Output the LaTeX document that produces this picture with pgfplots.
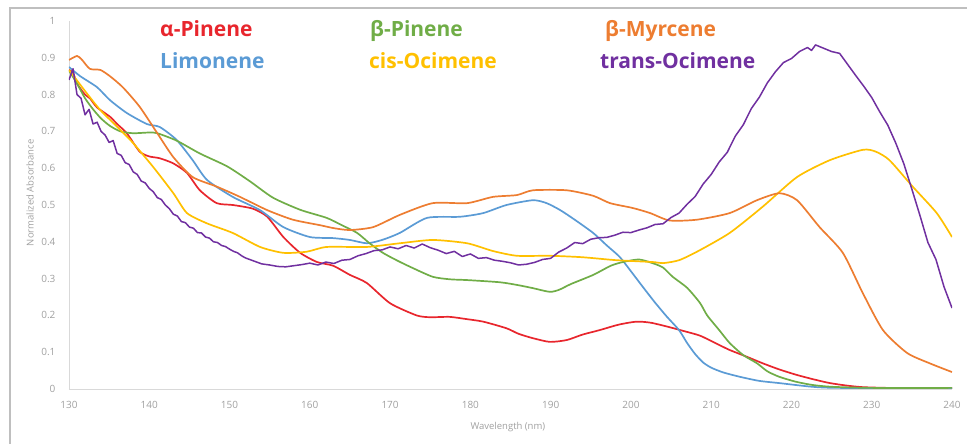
\documentclass[border=0pt]{standalone}
\usepackage{fontspec}
\setmainfont{Open Sans}
\usepackage{pgfplots}
\pgfplotsset{compat=1.18}

\definecolor{cRed}{HTML}{E8262D}
\definecolor{cBlue}{HTML}{5B9BD5}
\definecolor{cGreen}{HTML}{70AD47}
\definecolor{cOrange}{HTML}{ED7D31}
\definecolor{cYellow}{HTML}{FFC000}
\definecolor{cPurple}{HTML}{7030A0}
\definecolor{tickgray}{HTML}{A0A0A0}
\definecolor{axisgray}{HTML}{D9D9D9}
\definecolor{framegray}{HTML}{BFBFBF}

\newcommand{\legfont}{\fontsize{21}{25}\selectfont\bfseries}

\begin{document}
\begin{tikzpicture}[x=1pt,y=1pt]
\useasboundingbox (0,0) rectangle (967,444);
\draw[draw=framegray, line width=1.2pt] (10,0) -- (10,436) -- (967,436);

\begin{axis}[
    at={(69pt,55pt)}, anchor=south west,
    scale only axis, width=883pt, height=368pt,
    xmin=130, xmax=240, ymin=0, ymax=1,
    xtick={130,140,150,160,170,180,190,200,210,220,230,240},
    ytick={0,0.1,0.2,0.3,0.4,0.5,0.6,0.7,0.8,0.9,1},
    axis x line*=bottom, axis y line*=left,
    axis line style={draw=axisgray, line width=0.8pt},
    major tick length=0pt,
    /pgf/number format/assume math mode=true,
    ticklabel style={font=\fontsize{10}{12}\selectfont, text=tickgray},
    xticklabel style={yshift=-9pt},
    yticklabel style={xshift=-10pt},
    xlabel={Wavelength (nm)},
    ylabel={Normalized Absorbance},
    label style={font=\fontsize{9.5}{11}\selectfont, text=tickgray},
    xlabel style={at={(axis description cs:0.497,-0.103)}, anchor=center},
    ylabel style={at={(axis description cs:-0.0442,0.533)}, anchor=center},
    every axis plot/.append style={line width=1.7pt, line join=round},
]
% alpha-Pinene
\addplot[cRed, smooth, tension=0.4] coordinates {
(130,0.867) (130.5,0.86) (131,0.83) (132,0.80) (132.6,0.79) (133.5,0.765)
(135.1,0.74) (136,0.72) (137.2,0.695) (138.8,0.645) (140,0.632) (141.3,0.627)
(143,0.613) (144.7,0.587) (146.3,0.54) (148.4,0.505) (150.4,0.50) (152.9,0.49)
(154.7,0.468) (156.7,0.413) (158.8,0.37) (160.9,0.345) (162.9,0.335) (165,0.31)
(167.1,0.288) (170,0.233) (173.3,0.20) (175,0.195) (177.4,0.196) (179.5,0.19)
(181.6,0.183) (184.5,0.165) (186,0.15) (187.8,0.138) (189.9,0.128) (192,0.133)
(194,0.148) (196.1,0.16) (198.5,0.175) (200.7,0.183) (202.5,0.18) (204.8,0.168)
(206.5,0.158) (208.6,0.145) (210.5,0.125) (212.3,0.106) (214.4,0.088) (216.4,0.07)
(218.5,0.053) (220.7,0.038) (222.8,0.026) (224.8,0.016) (227,0.009) (228.9,0.005)
(232,0.003) (236,0.002) (240,0.002)
};
% Limonene
\addplot[cBlue, smooth, tension=0.4] coordinates {
(130,0.875) (131.4,0.85) (133.5,0.82) (135.1,0.785) (137.2,0.75) (139.7,0.72)
(141.3,0.712) (143.4,0.677) (145.4,0.622) (147.2,0.568) (150.4,0.522) (153.8,0.486)
(156.7,0.44) (160,0.413) (162.9,0.41) (165,0.405) (167.1,0.396) (169,0.405)
(171.2,0.424) (174.6,0.465) (178.7,0.468) (181.6,0.478) (184.5,0.5) (187.8,0.513)
(189.5,0.505) (191.2,0.486) (193,0.46) (195.3,0.424) (197,0.39) (198.6,0.359)
(200,0.32) (201.5,0.277) (203,0.235) (204.5,0.196) (206,0.16) (207,0.125)
(208,0.095) (209,0.072) (210,0.058) (211.5,0.045) (213.6,0.033) (216,0.022)
(218.5,0.016) (222.6,0.006) (226,0.003) (240,0.002)
};
% beta-Pinene
\addplot[cGreen, smooth, tension=0.4] coordinates {
(130,0.865) (131,0.83) (132,0.79) (133,0.76) (134,0.735) (135.1,0.715)
(136.4,0.70) (138,0.695) (140,0.697) (141,0.695) (143.4,0.675) (146.3,0.64)
(149.7,0.605) (152.5,0.565) (155.4,0.52) (158.8,0.487) (162.1,0.465) (164,0.445)
(165.9,0.424) (167.5,0.395) (169.1,0.37) (170.8,0.35) (172.5,0.332) (175.3,0.305)
(177.5,0.298) (179.6,0.296) (183.7,0.29) (186,0.282) (187.8,0.274) (189.9,0.264)
(191.1,0.27) (192.5,0.285) (195.3,0.31) (197.5,0.335) (199,0.345) (201,0.352)
(202.7,0.342) (204,0.33) (205.2,0.305) (207,0.275) (208.6,0.234) (209.5,0.2)
(211,0.16) (212.3,0.125) (214,0.092) (215.7,0.07) (217,0.048) (218.5,0.033)
(220.5,0.02) (222.6,0.011) (225,0.006) (230,0.003) (240,0.003)
};
% cis-Ocimene
\addplot[cYellow, smooth, tension=0.4] coordinates {
(130,0.867) (132.2,0.804) (133.9,0.758) (136.4,0.704) (138,0.668) (140.5,0.603)
(143,0.532) (144.7,0.478) (147.2,0.45) (150.4,0.424) (153.8,0.386) (156.7,0.37)
(159.6,0.373) (162.1,0.386) (167.1,0.386) (171.2,0.396) (175.3,0.405) (179.6,0.396)
(182.8,0.375) (185.8,0.362) (189.9,0.362) (194,0.358) (198.2,0.35) (202.7,0.345)
(204,0.342) (206,0.35) (208.4,0.375) (212.3,0.424) (216.4,0.495) (220.7,0.576)
(224.8,0.622) (228.9,0.65) (230.5,0.645) (232.2,0.622) (235.1,0.55) (238.1,0.478)
(240,0.413)
};
% beta-Myrcene
\addplot[cOrange, smooth, tension=0.4] coordinates {
(130,0.894) (131,0.905) (131.6,0.895) (132.6,0.87) (133.9,0.867) (135.1,0.85)
(136.7,0.82) (138.8,0.767) (141,0.695) (143,0.63) (145.4,0.576) (148.4,0.55)
(151.3,0.522) (154.7,0.486) (157.9,0.46) (161.3,0.445) (163,0.437) (165,0.432)
(167.9,0.44) (171.2,0.473) (175.3,0.505) (179.6,0.505) (182.8,0.522) (185.8,0.527)
(187.8,0.54) (192,0.54) (195.3,0.525) (197.4,0.505) (200.2,0.492) (202.4,0.478)
(204.8,0.458) (208.2,0.46) (212.3,0.478) (215.7,0.513) (218.5,0.532) (220.7,0.513)
(223.5,0.44) (226.4,0.37) (228.9,0.26) (231.4,0.16) (234.4,0.098) (237.2,0.07)
(240,0.046)
};
% trans-Ocimene
\addplot[cPurple, line width=1.5pt] coordinates {
(130,0.84) (130.5,0.87) (131,0.80) (131.5,0.79) (132,0.745) (132.5,0.76)
(133,0.72) (133.5,0.725) (134,0.70) (134.5,0.69) (135,0.67) (135.5,0.675)
(136,0.64) (136.5,0.635) (137,0.615) (137.5,0.61) (138,0.59) (138.5,0.583)
(139,0.565) (139.5,0.56) (140,0.545) (140.5,0.536) (141,0.52) (141.5,0.515)
(142,0.50) (142.5,0.49) (143,0.475) (143.5,0.47) (144,0.455) (144.5,0.452)
(145,0.44) (145.5,0.437) (146,0.425) (146.5,0.424) (147,0.413) (147.5,0.41)
(148,0.40) (148.5,0.398) (149,0.39) (149.5,0.387) (150,0.38) (150.5,0.374)
(151,0.37) (151.5,0.362) (152,0.356) (153,0.348) (154,0.340) (155,0.337)
(156,0.333) (157,0.332) (158,0.335) (159,0.338) (160,0.342) (161,0.337)
(162,0.345) (163,0.341) (164,0.35) (165,0.352) (166,0.362) (167,0.368)
(168,0.376) (169,0.378) (170,0.386) (171,0.381) (172,0.39) (173,0.383)
(174,0.394) (175,0.384) (176,0.377) (177,0.368) (178,0.374) (179,0.36)
(180,0.367) (181,0.355) (182,0.357) (183,0.35) (184,0.347) (185,0.343)
(186,0.337) (187,0.339) (188,0.344) (189,0.352) (190,0.355) (191,0.372)
(192,0.383) (193,0.398) (194,0.395) (195,0.407) (196,0.411) (197,0.412)
(198,0.418) (199,0.426) (200,0.425) (201,0.432) (202,0.438) (203,0.447)
(204,0.449) (205,0.466) (206,0.478) (207,0.502) (208,0.523) (209,0.557)
(210,0.583) (211,0.617) (212,0.643) (213,0.687) (214,0.718) (215,0.762)
(216,0.793) (217,0.832) (218,0.862) (219,0.887) (220,0.898) (221,0.917)
(222,0.928) (222.5,0.92) (223,0.935) (224,0.926) (225,0.917) (226,0.912)
(227,0.882) (228,0.852) (229,0.823) (230,0.792) (231,0.753) (232,0.717)
(233,0.668) (234,0.612) (235,0.543) (236,0.472) (237,0.398) (238,0.352)
(239,0.278) (240,0.22)
};
\end{axis}

\node[anchor=base west, inner sep=0pt, text=cRed, font=\legfont] at (160,407) {α-Pinene};
\node[anchor=base west, inner sep=0pt, text=cBlue, font=\legfont] at (160,375) {Limonene};
\node[anchor=base west, inner sep=0pt, text=cGreen, font=\legfont] at (370,407) {β-Pinene};
\node[anchor=base west, inner sep=0pt, text=cYellow, font=\legfont] at (369,375) {cis-Ocimene};
\node[anchor=base west, inner sep=0pt, text=cOrange, font=\legfont] at (605,407) {β-Myrcene};
\node[anchor=base west, inner sep=0pt, text=cPurple, font=\legfont] at (600,375) {trans-Ocimene};
\end{tikzpicture}
\end{document}
